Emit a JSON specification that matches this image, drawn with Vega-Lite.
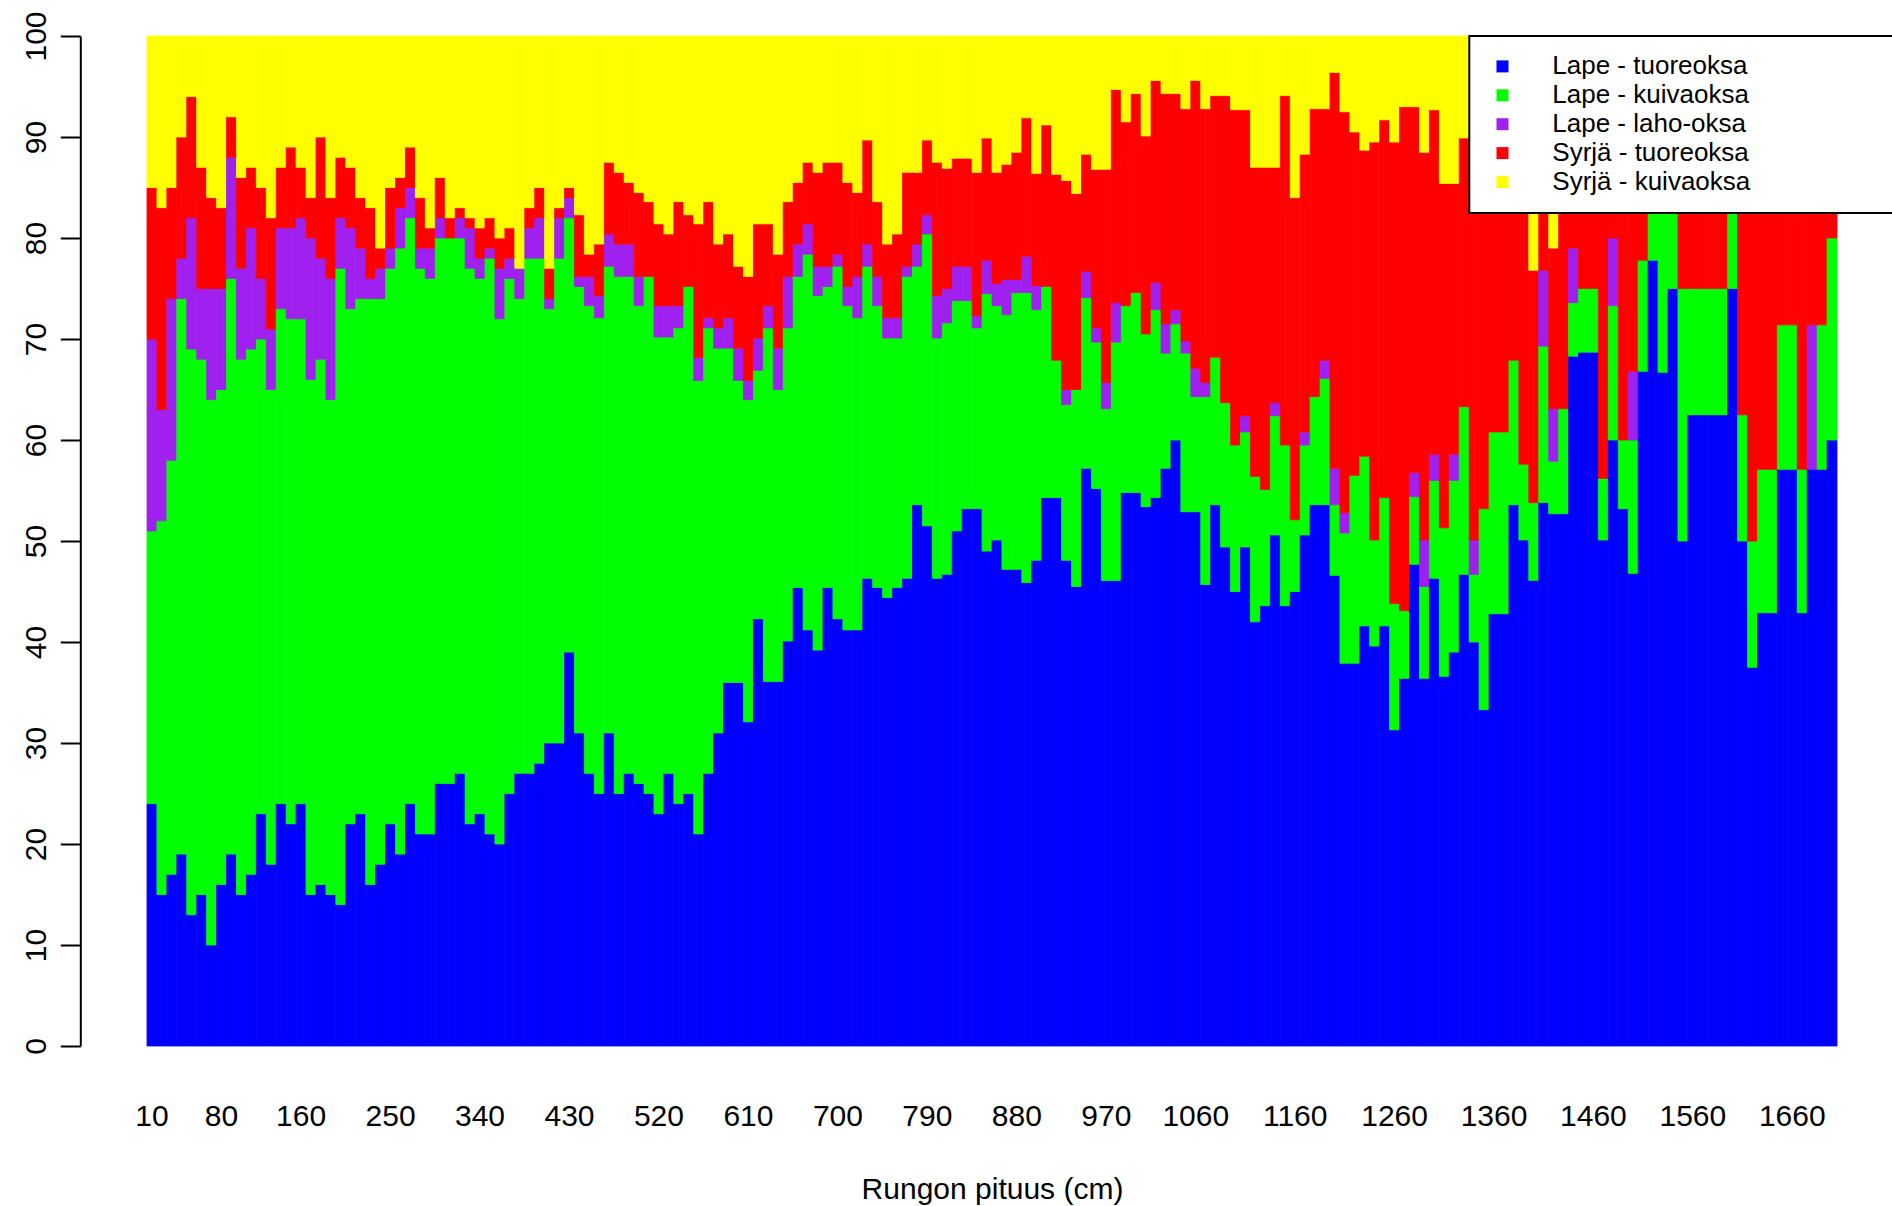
{
"$schema": "https://vega.github.io/schema/vega-lite/v6.json",
"width": 1690, "height": 1010,
"autosize": {"type": "none"},
"padding": {"left": 147, "top": 36, "right": 55, "bottom": 160},
"background": "white",
"config": {"view": {"stroke": null}, "font": "Liberation Sans", "legend": {"strokeWidth": 2}},
"data": {"values": [
{"x":10,"a":24,"b":27,"c":19,"d":15,"e":15},
{"x":20,"a":15,"b":37,"c":11,"d":20,"e":17},
{"x":30,"a":17,"b":41,"c":16,"d":11,"e":15},
{"x":40,"a":19,"b":55,"c":4,"d":12,"e":10},
{"x":50,"a":13,"b":56,"c":13,"d":12,"e":6},
{"x":60,"a":15,"b":53,"c":7,"d":12,"e":13},
{"x":70,"a":10,"b":54,"c":11,"d":9,"e":16},
{"x":80,"a":16,"b":49,"c":10,"d":8,"e":17},
{"x":90,"a":19,"b":57,"c":12,"d":4,"e":8},
{"x":100,"a":15,"b":53,"c":9,"d":9,"e":14},
{"x":110,"a":17,"b":52,"c":12,"d":6,"e":13},
{"x":120,"a":23,"b":47,"c":6,"d":9,"e":15},
{"x":130,"a":18,"b":47,"c":6,"d":11,"e":18},
{"x":140,"a":24,"b":49,"c":8,"d":6,"e":13},
{"x":150,"a":22,"b":50,"c":9,"d":8,"e":11},
{"x":160,"a":24,"b":48,"c":10,"d":5,"e":13},
{"x":170,"a":15,"b":51,"c":14,"d":4,"e":16},
{"x":180,"a":16,"b":52,"c":10,"d":12,"e":10},
{"x":190,"a":15,"b":49,"c":12,"d":8,"e":16},
{"x":200,"a":14,"b":63,"c":5,"d":6,"e":12},
{"x":210,"a":22,"b":51,"c":8,"d":6,"e":13},
{"x":220,"a":23,"b":51,"c":5,"d":5,"e":16},
{"x":230,"a":16,"b":58,"c":2,"d":7,"e":17},
{"x":240,"a":18,"b":56,"c":3,"d":2,"e":21},
{"x":250,"a":22,"b":55,"c":2,"d":6,"e":15},
{"x":260,"a":19,"b":60,"c":4,"d":3,"e":14},
{"x":270,"a":24,"b":58,"c":3,"d":4,"e":11},
{"x":280,"a":21,"b":56,"c":2,"d":5,"e":16},
{"x":290,"a":21,"b":55,"c":3,"d":2,"e":19},
{"x":300,"a":26,"b":54,"c":2,"d":4,"e":14},
{"x":310,"a":26,"b":54,"c":0,"d":2,"e":18},
{"x":320,"a":27,"b":53,"c":2,"d":1,"e":17},
{"x":330,"a":22,"b":55,"c":4,"d":1,"e":18},
{"x":340,"a":23,"b":53,"c":2,"d":3,"e":19},
{"x":350,"a":21,"b":57,"c":1,"d":3,"e":18},
{"x":360,"a":20,"b":52,"c":5,"d":3,"e":20},
{"x":370,"a":25,"b":51,"c":2,"d":3,"e":19},
{"x":380,"a":27,"b":47,"c":3,"d":0,"e":23},
{"x":390,"a":27,"b":51,"c":3,"d":2,"e":17},
{"x":400,"a":28,"b":50,"c":4,"d":3,"e":15},
{"x":410,"a":30,"b":43,"c":1,"d":3,"e":23},
{"x":420,"a":30,"b":48,"c":4,"d":1,"e":17},
{"x":430,"a":39,"b":43,"c":2,"d":1,"e":15},
{"x":440,"a":31,"b":44.2,"c":1,"d":6.1,"e":17.7},
{"x":450,"a":27,"b":46.3,"c":2.9,"d":2.2,"e":21.6},
{"x":460,"a":25,"b":47.1,"c":2.2,"d":5.1,"e":20.6},
{"x":470,"a":31,"b":46.2,"c":3.2,"d":7.1,"e":12.5},
{"x":480,"a":25,"b":51.2,"c":3.2,"d":7.1,"e":13.5},
{"x":490,"a":27,"b":49.2,"c":3.2,"d":6.1,"e":14.5},
{"x":500,"a":26,"b":47.3,"c":2.9,"d":8.3,"e":15.5},
{"x":510,"a":25,"b":51.2,"c":0,"d":7.4,"e":16.4},
{"x":520,"a":23,"b":47.2,"c":3.1,"d":8.1,"e":18.6},
{"x":530,"a":27,"b":43.2,"c":3.1,"d":7.1,"e":19.6},
{"x":540,"a":24,"b":47.1,"c":2.2,"d":10.3,"e":16.4},
{"x":550,"a":25,"b":50.2,"c":0,"d":7.1,"e":17.7},
{"x":560,"a":21,"b":44.9,"c":2.3,"d":13.2,"e":18.6},
{"x":570,"a":27,"b":44.1,"c":1,"d":11.5,"e":16.4},
{"x":580,"a":31,"b":38.1,"c":2,"d":8.3,"e":20.6},
{"x":590,"a":36,"b":33.1,"c":3,"d":8.3,"e":19.6},
{"x":600,"a":36,"b":29.9,"c":3.2,"d":8.1,"e":22.8},
{"x":610,"a":32.1,"b":31.9,"c":1.9,"d":10.3,"e":23.8},
{"x":620,"a":42.3,"b":24.6,"c":3.2,"d":11.3,"e":18.6},
{"x":630,"a":36.1,"b":35,"c":2.2,"d":8.1,"e":18.6},
{"x":640,"a":36.1,"b":28.9,"c":4.1,"d":9.3,"e":21.6},
{"x":650,"a":40.1,"b":31,"c":5.1,"d":7.4,"e":16.4},
{"x":660,"a":45.4,"b":30.8,"c":3.2,"d":6.1,"e":14.5},
{"x":670,"a":41.2,"b":37.2,"c":3,"d":6.1,"e":12.5},
{"x":680,"a":39.2,"b":35.1,"c":2.9,"d":9.3,"e":13.5},
{"x":690,"a":45.4,"b":29.8,"c":2,"d":10.3,"e":12.5},
{"x":700,"a":42.3,"b":34.9,"c":1.2,"d":9.1,"e":12.5},
{"x":710,"a":41.2,"b":32.1,"c":1.9,"d":10.3,"e":14.5},
{"x":720,"a":41.2,"b":30.9,"c":4.1,"d":8.3,"e":15.5},
{"x":730,"a":46.3,"b":30.9,"c":2.2,"d":10.3,"e":10.3},
{"x":740,"a":45.4,"b":27.9,"c":2.9,"d":7.4,"e":16.4},
{"x":750,"a":44.4,"b":25.7,"c":2,"d":7.3,"e":20.6},
{"x":760,"a":45.4,"b":24.7,"c":2,"d":8.3,"e":19.6},
{"x":770,"a":46.3,"b":29.9,"c":1,"d":9.3,"e":13.5},
{"x":780,"a":53.6,"b":23.6,"c":2.2,"d":7.1,"e":13.5},
{"x":790,"a":51.5,"b":28.9,"c":1.9,"d":7.4,"e":10.3},
{"x":800,"a":46.3,"b":23.8,"c":4.2,"d":13.2,"e":12.5},
{"x":810,"a":46.7,"b":24.9,"c":3.4,"d":11.9,"e":13.1},
{"x":820,"a":51,"b":22.8,"c":3.4,"d":10.7,"e":12.1},
{"x":830,"a":53.2,"b":20.6,"c":3.4,"d":10.7,"e":12.1},
{"x":840,"a":53.2,"b":17.9,"c":1.2,"d":14.2,"e":13.5},
{"x":850,"a":49,"b":25.5,"c":3.3,"d":12.1,"e":10.1},
{"x":860,"a":50.1,"b":23.2,"c":2.2,"d":11,"e":13.5},
{"x":870,"a":47.2,"b":25.2,"c":3.5,"d":11.4,"e":12.7},
{"x":880,"a":47.2,"b":27.4,"c":1.3,"d":12.6,"e":11.5},
{"x":890,"a":45.9,"b":28.7,"c":3.6,"d":13.7,"e":8.1},
{"x":900,"a":48.1,"b":24.8,"c":2.4,"d":11.1,"e":13.6},
{"x":910,"a":54.3,"b":20.9,"c":0,"d":16,"e":8.8},
{"x":920,"a":54.3,"b":13.6,"c":0,"d":18.4,"e":13.7},
{"x":930,"a":48.1,"b":15.4,"c":1.5,"d":20.7,"e":14.3},
{"x":940,"a":45.5,"b":19.5,"c":0,"d":19.4,"e":15.6},
{"x":950,"a":57.2,"b":16.9,"c":2.6,"d":11.6,"e":11.7},
{"x":960,"a":55.2,"b":14.5,"c":1.4,"d":15.7,"e":13.2},
{"x":970,"a":46.1,"b":17,"c":2.6,"d":21.1,"e":13.2},
{"x":980,"a":46.1,"b":23.6,"c":3.9,"d":21.1,"e":5.3},
{"x":990,"a":54.8,"b":18.5,"c":0,"d":18.2,"e":8.5},
{"x":1000,"a":54.8,"b":19.8,"c":0,"d":19.7,"e":5.7},
{"x":1010,"a":53.4,"b":17.1,"c":0,"d":19.6,"e":9.9},
{"x":1020,"a":54.3,"b":18.6,"c":2.7,"d":20,"e":4.4},
{"x":1030,"a":57.2,"b":11.4,"c":2.9,"d":22.8,"e":5.7},
{"x":1040,"a":60,"b":11.5,"c":1.4,"d":21.4,"e":5.7},
{"x":1050,"a":52.9,"b":15.7,"c":1.2,"d":23,"e":7.2},
{"x":1060,"a":52.9,"b":11.4,"c":2.8,"d":28.5,"e":4.4},
{"x":1070,"a":45.7,"b":18.6,"c":1.4,"d":27.1,"e":7.2},
{"x":1080,"a":53.6,"b":14.6,"c":0,"d":25.9,"e":5.9},
{"x":1090,"a":49.4,"b":14.3,"c":0,"d":30.4,"e":5.9},
{"x":1100,"a":45,"b":14.5,"c":0,"d":33.2,"e":7.3},
{"x":1110,"a":49.4,"b":11.4,"c":1.6,"d":30.3,"e":7.3},
{"x":1120,"a":42,"b":14.4,"c":0,"d":30.6,"e":13},
{"x":1130,"a":43.6,"b":11.5,"c":0,"d":31.9,"e":13},
{"x":1140,"a":50.6,"b":11.8,"c":1.3,"d":23.3,"e":13},
{"x":1150,"a":43.6,"b":15.9,"c":0,"d":34.6,"e":5.9},
{"x":1160,"a":45,"b":7.1,"c":0,"d":31.9,"e":16},
{"x":1170,"a":50.6,"b":8.9,"c":1.3,"d":27.5,"e":11.7},
{"x":1180,"a":53.6,"b":10.7,"c":0,"d":28.5,"e":7.2},
{"x":1190,"a":53.6,"b":12.5,"c":1.8,"d":24.9,"e":7.2},
{"x":1200,"a":46.6,"b":7,"c":3.6,"d":39.2,"e":3.6},
{"x":1210,"a":37.9,"b":12.9,"c":2,"d":39.7,"e":7.5},
{"x":1220,"a":37.9,"b":18.6,"c":0,"d":34,"e":9.5},
{"x":1230,"a":41.6,"b":16.8,"c":0,"d":30.3,"e":11.3},
{"x":1240,"a":39.6,"b":10.5,"c":0,"d":39.4,"e":10.5},
{"x":1250,"a":41.6,"b":12.7,"c":0,"d":37.4,"e":8.3},
{"x":1260,"a":31.3,"b":12.5,"c":0,"d":45.7,"e":10.5},
{"x":1270,"a":36.4,"b":6.7,"c":0,"d":49.9,"e":7},
{"x":1280,"a":47.7,"b":6.7,"c":2.4,"d":36.2,"e":7},
{"x":1290,"a":36.4,"b":9.1,"c":4.6,"d":38.4,"e":11.5},
{"x":1300,"a":46.3,"b":9.7,"c":2.6,"d":34.1,"e":7.3},
{"x":1310,"a":36.6,"b":14.7,"c":0,"d":34.1,"e":14.6},
{"x":1320,"a":39,"b":17,"c":2.6,"d":26.8,"e":14.6},
{"x":1330,"a":46.7,"b":16.6,"c":0,"d":26.6,"e":10.1},
{"x":1340,"a":40,"b":6.7,"c":3.4,"d":34.9,"e":15},
{"x":1350,"a":33.3,"b":19.9,"c":0,"d":34.8,"e":12},
{"x":1360,"a":42.8,"b":18,"c":0,"d":29.2,"e":10},
{"x":1370,"a":42.8,"b":18,"c":0,"d":28.2,"e":11},
{"x":1380,"a":53.6,"b":14.3,"c":0,"d":24.1,"e":8},
{"x":1390,"a":50.1,"b":7.5,"c":0,"d":28.4,"e":14},
{"x":1400,"a":46.1,"b":7.7,"c":0,"d":23,"e":23.2},
{"x":1410,"a":53.8,"b":15.5,"c":7.5,"d":11.2,"e":12},
{"x":1420,"a":52.7,"b":5.2,"c":5.2,"d":15.9,"e":21},
{"x":1430,"a":52.7,"b":10.4,"c":0,"d":26.9,"e":10},
{"x":1440,"a":68.3,"b":5.3,"c":5.4,"d":12,"e":9},
{"x":1450,"a":68.7,"b":6.3,"c":0,"d":12.5,"e":12.5},
{"x":1460,"a":68.7,"b":6.3,"c":0,"d":18.8,"e":6.2},
{"x":1470,"a":50.1,"b":6.1,"c":0,"d":31.3,"e":12.5},
{"x":1480,"a":60,"b":13.3,"c":6.7,"d":13.3,"e":6.7},
{"x":1490,"a":53.2,"b":6.8,"c":0,"d":26.7,"e":13.3},
{"x":1500,"a":46.8,"b":13.2,"c":6.8,"d":19.9,"e":13.3},
{"x":1510,"a":66.8,"b":11,"c":0,"d":12.2,"e":10},
{"x":1520,"a":77.8,"b":11.1,"c":0,"d":11.1,"e":0},
{"x":1530,"a":66.7,"b":33.3,"c":0,"d":0,"e":0},
{"x":1540,"a":75,"b":25,"c":0,"d":0,"e":0},
{"x":1550,"a":50,"b":25,"c":0,"d":25,"e":0},
{"x":1560,"a":62.5,"b":12.5,"c":0,"d":25,"e":0},
{"x":1570,"a":62.5,"b":12.5,"c":0,"d":25,"e":0},
{"x":1580,"a":62.5,"b":12.5,"c":0,"d":25,"e":0},
{"x":1590,"a":62.5,"b":12.5,"c":0,"d":25,"e":0},
{"x":1600,"a":75,"b":25,"c":0,"d":0,"e":0},
{"x":1610,"a":50,"b":12.5,"c":0,"d":37.5,"e":0},
{"x":1620,"a":37.5,"b":12.5,"c":0,"d":50,"e":0},
{"x":1630,"a":42.9,"b":14.2,"c":0,"d":42.9,"e":0},
{"x":1640,"a":42.9,"b":14.2,"c":0,"d":42.9,"e":0},
{"x":1650,"a":57.1,"b":14.3,"c":0,"d":28.6,"e":0},
{"x":1660,"a":57.1,"b":14.3,"c":0,"d":28.6,"e":0},
{"x":1670,"a":42.9,"b":14.2,"c":0,"d":42.9,"e":0},
{"x":1680,"a":57.1,"b":0,"c":14.3,"d":28.6,"e":0},
{"x":1690,"a":57.1,"b":14.3,"c":0,"d":28.6,"e":0},
{"x":1700,"a":60,"b":20,"c":0,"d":20,"e":0}
]},
"transform": [{"fold": ["a","b","c","d","e"], "as": ["k","v"]}, {"filter": "datum.v > 0"}],
"mark": {"type": "bar", "strokeWidth": 0.8},
"encoding": {
  "x": {"field": "x", "type": "ordinal",
    "scale": {"paddingInner": 0, "paddingOuter": 0},
    "axis": {"title": "Rungon pituus (cm)", "values": [10,80,160,250,340,430,520,610,700,790,880,970,1060,1160,1260,1360,1460,1560,1660],
      "labelAngle": 0, "ticks": false, "tickSize": 0, "domain": false, "grid": false,
      "labelPadding": 79, "labelBaseline": "alphabetic", "labelFontSize": 30, "labelColor": "black", "labelOverlap": false,
      "titleFontSize": 30, "titleFontWeight": "normal", "titleColor": "black", "titleBaseline": "alphabetic", "titleY": 152.5}},
  "y": {"field": "v", "type": "quantitative", "stack": "zero",
    "scale": {"domain": [0,100], "nice": false},
    "axis": {"title": null, "values": [0,10,20,30,40,50,60,70,80,90,100], "grid": false, "offset": 66.7,
      "domainColor": "black", "domainWidth": 2, "tickColor": "black", "tickWidth": 2, "tickSize": 20,
      "labelAngle": -90, "labelAlign": "center", "labelBaseline": "alphabetic", "labelPadding": 15,
      "labelFontSize": 30, "labelColor": "black", "labelFlush": false, "labelOverlap": false}},
  "color": {"field": "k", "type": "nominal",
    "scale": {"domain": ["a","b","c","d","e"], "range": ["#0000FF","#00FF00","#A020F0","#FF0000","#FFFF00"]},
    "legend": {"title": null, "orient": "none", "legendX": 1322.3, "legendY": 0, "direction": "vertical",
      "symbolType": "square", "symbolSize": 144, "symbolStrokeWidth": 0,
      "labelFontSize": 26, "labelColor": "black", "labelLimit": 3000,
      "padding": 17.4, "rowPadding": 2.9, "symbolOffset": 2.8, "labelOffset": 36.8,
      "strokeColor": "black", "fillColor": "white",
      "labelExpr": "(datum.label == 'a' ? 'Lape - tuoreoksa' : datum.label == 'b' ? 'Lape - kuivaoksa' : datum.label == 'c' ? 'Lape - laho-oksa' : datum.label == 'd' ? 'Syrjä - tuoreoksa' : 'Syrjä - kuivaoksa') + '\u00a0\u00a0\u00a0\u00a0\u00a0\u00a0\u00a0\u00a0\u00a0\u00a0\u00a0\u00a0\u00a0\u00a0\u00a0\u00a0\u00a0\u00a0\u200b'"}},
  "stroke": {"field": "k", "type": "nominal",
    "scale": {"domain": ["a","b","c","d","e"], "range": ["#0000FF","#00FF00","#A020F0","#FF0000","#FFFF00"]},
    "legend": null},
  "order": {"field": "k", "sort": "ascending"}
}
}
